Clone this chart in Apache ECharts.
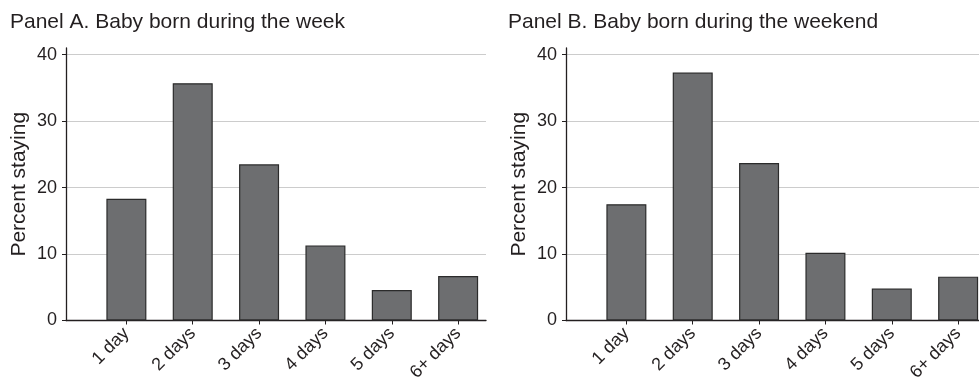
<!DOCTYPE html>
<html>
<head>
<meta charset="utf-8">
<script src="https://cdn.jsdelivr.net/npm/echarts@6/dist/echarts.min.js"></script>
<style>
html,body{margin:0;padding:0;background:#fff;}
#chart{width:979px;height:379px;}
</style>
</head>
<body>
<div id="chart"></div>
<script>
const categories = ['1 day', '2 days', '3 days', '4 days', '5 days', '6+ days'];
const weekValues = [18.3, 35.7, 23.5, 11.3, 4.6, 6.7];
const weekendValues = [17.5, 37.3, 23.7, 10.2, 4.8, 6.6];
const yTicks = [0, 10, 20, 30, 40];
const xTicks = [1, 2, 3, 4, 5, 6];
const panelTitles = ['Panel A. Baby born during the week', 'Panel B. Baby born during the weekend'];
const yName = 'Percent staying';

const FONT = "'Liberation Sans', Arial, Helvetica, sans-serif";
const TEXT = '#231f20';
const AXIS = '#231f20';

function xAxis(idx) {
  return {
    type: 'value', gridIndex: idx, min: 0.09, max: 6.42,
    axisLine: { show: true, onZero: false, lineStyle: { color: AXIS, width: 1.3 } },
    axisTick: { show: true, length: 4, customValues: xTicks, lineStyle: { color: AXIS, width: 1 } },
    axisLabel: {
      show: true, customValues: xTicks, rotate: 45, margin: 10,
      fontFamily: FONT, fontSize: 18, color: TEXT,
      formatter: v => categories[Math.round(v) - 1] || ''
    },
    splitLine: { show: false }
  };
}
function yAxis(idx) {
  return {
    type: 'value', gridIndex: idx, min: 0, max: 41, interval: 10,
    name: yName, nameLocation: 'middle', nameRotate: 90, nameGap: 36,
    nameTextStyle: { fontFamily: FONT, fontSize: 21, color: TEXT },
    axisLine: { show: true, lineStyle: { color: AXIS, width: 1.3 } },
    axisTick: { show: true, length: 4, customValues: yTicks, lineStyle: { color: AXIS, width: 1 } },
    axisLabel: { show: true, customValues: yTicks, margin: 9, fontFamily: FONT, fontSize: 18, color: TEXT },
    splitLine: { show: true, lineStyle: { color: '#cccccc', width: 1.2 } }
  };
}
function barSeries(idx, values) {
  return {
    type: 'bar', xAxisIndex: idx, yAxisIndex: idx,
    data: values.map((v, i) => [xTicks[i], v]),
    barWidth: 40,
    itemStyle: { color: '#6d6e70', borderColor: '#2b2b2b', borderWidth: 1.2 },
    emphasis: { disabled: true },
    animation: false
  };
}

const chart = echarts.init(document.getElementById('chart'), null, { renderer: 'canvas' });
chart.setOption({
  animation: false,
  backgroundColor: '#ffffff',
  title: [
    { text: panelTitles[0], left: 10, top: 12, padding: 0, textStyle: { fontFamily: FONT, fontSize: 21, fontWeight: 'normal', color: TEXT } },
    { text: panelTitles[1], left: 508, top: 12, padding: 0, textStyle: { fontFamily: FONT, fontSize: 21, fontWeight: 'normal', color: TEXT } }
  ],
  grid: [
    { left: 66, top: 48, width: 420, height: 272.5, containLabel: false, outerBoundsMode: 'none' },
    { left: 566, top: 48, width: 420, height: 272.5, containLabel: false, outerBoundsMode: 'none' }
  ],
  xAxis: [xAxis(0), xAxis(1)],
  yAxis: [yAxis(0), yAxis(1)],
  series: [barSeries(0, weekValues), barSeries(1, weekendValues)]
});
</script>
</body>
</html>
